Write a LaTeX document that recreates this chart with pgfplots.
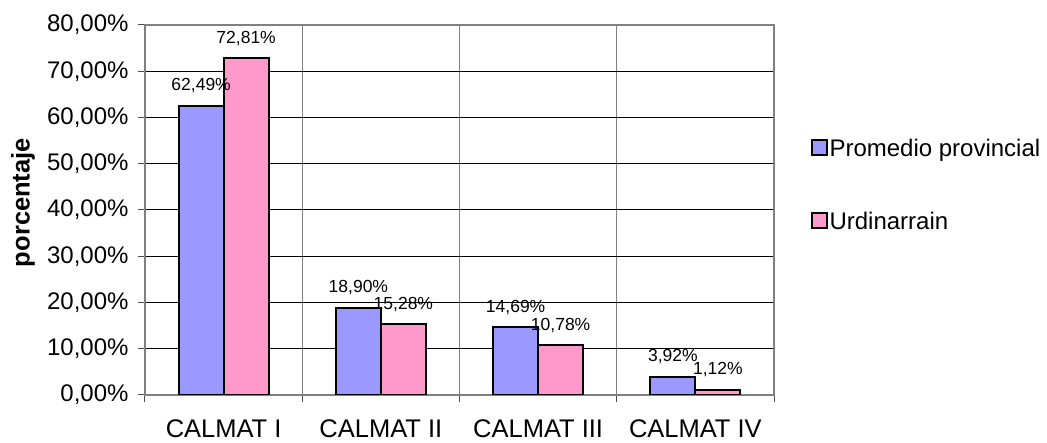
\documentclass[border=0pt]{standalone}
\usepackage{pgfplots}
\pgfplotsset{compat=1.18}
\usepackage{fontspec}
\setmainfont{Liberation Sans}
\definecolor{cblue}{HTML}{9999FF}
\definecolor{cpink}{HTML}{FF99CC}
\begin{document}
\begin{tikzpicture}
\path[use as bounding box] (-145pt,-48pt) rectangle (902pt,395pt);
\begin{axis}[
 at={(0,0)}, anchor=south west,
 scale only axis, width=629pt, height=370pt,
 xmin=-0.5, xmax=3.5, ymin=0, ymax=80,
 ybar=0pt, bar width=45pt,
 ytick={0,10,...,80},
 /pgf/number format/assume math mode=true,
 yticklabel={\pgfmathprintnumber[fixed,fixed zerofill,precision=2,use comma]{\tick}\%},
 xtick={-0.5,0.5,1.5,2.5,3.5}, xticklabels={},
 extra x ticks={0,1,2,3},
 extra x tick labels={CALMAT I, CALMAT II, CALMAT III, CALMAT IV},
 extra x tick style={major tick length=0pt, grid=none, tick label style={font=\fontsize{25.5}{30}\selectfont, yshift=-23pt, inner sep=1pt}},
 xmajorgrids, ymajorgrids,
 x grid style={draw=gray, line width=1pt},
 y grid style={draw=black, line width=1pt},
 axis line style={draw=gray, line width=1.2pt},
 tick align=outside, xtick pos=bottom, ytick pos=left,
 major tick length=7pt,
 tick style={draw=black!70, line width=1pt},
 yticklabel style={font=\fontsize{24}{28}\selectfont, xshift=-6pt},
 ylabel={porcentaje},
 ylabel style={font=\fontsize{25.5}{30}\selectfont\bfseries, at={(axis description cs:-0.194,0.52)}, anchor=center},
 nodes near coords={\pgfmathprintnumber[fixed,fixed zerofill,precision=2,use comma]{\pgfplotspointmeta}\%},
 every node near coord/.append style={font=\fontsize{17.5}{20}\selectfont, anchor=base, yshift=15pt, text=black},
 legend style={draw=none, fill=none, at={(1.053,0.568)}, anchor=west, row sep=50pt, font=\fontsize{24}{28}\selectfont},
 legend cell align=left,
]
\addplot[fill=cblue, draw=black, line width=2pt,
  legend image code/.code={\draw[fill=cblue, draw=black, line width=2pt] (0pt,-7pt) rectangle (15pt,8pt);}]
  coordinates {(0,62.49) (1,18.90) (2,14.69) (3,3.92)};
\addlegendentry{Promedio provincial}
\addplot[fill=cpink, draw=black, line width=2pt,
  legend image code/.code={\draw[fill=cpink, draw=black, line width=2pt] (0pt,-7pt) rectangle (15pt,8pt);}]
  coordinates {(0,72.81) (1,15.28) (2,10.78) (3,1.12)};
\addlegendentry{Urdinarrain}
\end{axis}
\end{tikzpicture}
\end{document}
